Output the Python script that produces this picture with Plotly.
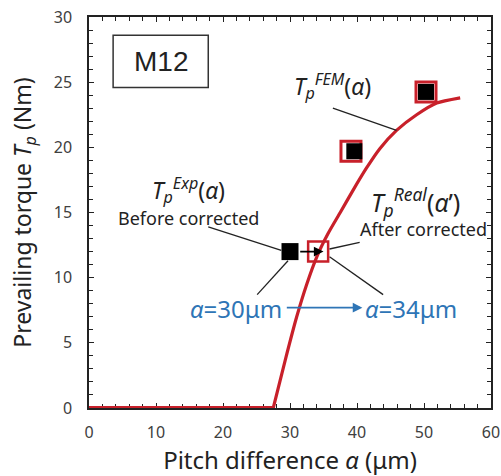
import plotly.graph_objects as go

# FEM curve (alpha in um, torque in Nm)
fem_alpha = [0, 27.5, 29.3, 31.0, 32.5, 34.0, 35.7, 37.5, 39.4, 41.4, 43.4, 45.9, 48.9, 51.9, 55.4]
fem_torque = [0, 0, 3.7, 7.0, 9.5, 11.6, 13.4, 15.0, 16.7, 18.4, 19.9, 21.3, 22.5, 23.4, 23.8]

# Experimental points
exp_alpha = [30.0]
exp_torque = [12.0]
real_alpha = [34.2]
real_torque = [12.0]
fem_pts_alpha = [39.6, 50.3]
fem_pts_torque = [19.7, 24.25]
fem_pts_red_alpha = [39.1, 50.3]

x_ticks = [0, 10, 20, 30, 40, 50, 60]
y_ticks = [0, 5, 10, 15, 20, 25, 30]

RED = "#c8202a"
BLUE = "#2e75b6"
FONT = "Noto Sans"

fig = go.Figure()
# flat part and rising part (sharp corner at onset)
fig.add_trace(go.Scatter(x=fem_alpha[:2], y=fem_torque[:2], mode="lines",
                         line=dict(color=RED, width=4), showlegend=False, cliponaxis=False))
fig.add_trace(go.Scatter(x=fem_alpha[1:], y=fem_torque[1:], mode="lines",
                         line=dict(color=RED, width=3.2, shape="spline", smoothing=0.6),
                         showlegend=False, cliponaxis=False))
fig.add_trace(go.Scatter(x=fem_pts_red_alpha, y=fem_pts_torque, mode="markers",
                         marker=dict(symbol="square", size=20, color="white",
                                     line=dict(color=RED, width=3)), showlegend=False))
fig.add_trace(go.Scatter(x=fem_pts_alpha, y=fem_pts_torque, mode="markers",
                         marker=dict(symbol="square", size=16, color="black"), showlegend=False))
fig.add_trace(go.Scatter(x=exp_alpha, y=exp_torque, mode="markers",
                         marker=dict(symbol="square", size=17, color="black"), showlegend=False))
fig.add_trace(go.Scatter(x=real_alpha, y=real_torque, mode="markers",
                         marker=dict(symbol="square-open", size=20, color=RED,
                                     line=dict(width=2.5)), showlegend=False))

LC = dict(color="#222", width=1.3)
shapes = [
    dict(type="rect", x0=3.6, x1=17.8, y0=24.6, y1=28.6, line=dict(color="#333", width=1.5)),
    dict(type="line", x0=36.4, y0=23.0, x1=45.9, y1=21.3, line=LC),
    dict(type="line", x0=17.8, y0=13.9, x1=28.7, y1=12.1, line=LC),
    dict(type="line", x0=25.1, y0=8.7, x1=29.7, y1=11.3, line=LC),
    dict(type="line", x0=35.9, y0=12.2, x1=40.4, y1=12.7, line=LC),
    dict(type="line", x0=35.9, y0=11.6, x1=43.9, y1=8.7, line=LC),
]

tp = "<i>T</i><sub><i>p</i></sub>"
annotations = [
    dict(x=10.7, y=26.6, text="M12", font=dict(size=28, color="#222", family="Liberation Sans")),
    dict(x=36.3, y=24.7, text=tp + "<sup><i>FEM</i></sup>(<i>α</i>)", font=dict(size=23, color="#222")),
    dict(x=14.9, y=16.7, text=tp + "<sup><i>Exp</i></sup>(<i>α</i>)", font=dict(size=23, color="#222")),
    dict(x=14.9, y=14.6, text="Before corrected", font=dict(size=18, color="#222")),
    dict(x=48.7, y=15.8, text=tp + "<sup><i>Real</i></sup>(<i>α</i>’)", font=dict(size=25, color="#222")),
    dict(x=49.9, y=13.7, text="After corrected", font=dict(size=18, color="#222")),
    dict(x=21.9, y=7.6, text="<i>α</i>=30μm", font=dict(size=24, color=BLUE)),
    dict(x=48.1, y=7.6, text="<i>α</i>=34μm", font=dict(size=24, color=BLUE)),
    # arrows
    dict(x=35.0, y=12.0, ax=31.3, ay=12.0, axref="x", ayref="y", text="", showarrow=True,
         arrowhead=2, arrowsize=1.2, arrowwidth=1.6, arrowcolor="black"),
    dict(x=40.8, y=7.7, ax=29.3, ay=7.7, axref="x", ayref="y", text="", showarrow=True,
         arrowhead=2, arrowsize=1.2, arrowwidth=1.6, arrowcolor=BLUE),
]
for a in annotations:
    a.setdefault("showarrow", False)
    a.setdefault("xref", "x")
    a.setdefault("yref", "y")

fig.update_layout(
    width=501, height=476,
    margin=dict(l=89, r=10, t=17, b=68),
    plot_bgcolor="white", paper_bgcolor="white",
    font=dict(family=FONT, color="#404040"),
    shapes=shapes, annotations=annotations,
    xaxis=dict(range=[0, 60], tickvals=x_ticks, showgrid=False, zeroline=False,
               showline=True, linecolor="#222", linewidth=1.5, mirror="allticks",
               ticks="inside", ticklen=5, tickcolor="#222", tickfont=dict(size=16, color="#404040"),
               minor=dict(dtick=2, ticks="inside", ticklen=4, tickcolor="#222"),
               ticklabelstandoff=9, ticklabeloverflow="allow", automargin=False, layer="below traces",
               title=dict(text="Pitch difference <i>α</i> (μm)", font=dict(size=24, color="#222"), standoff=6)),
    yaxis=dict(range=[0, 30], tickvals=y_ticks, showgrid=False, zeroline=False,
               showline=True, linecolor="#222", linewidth=1.5, mirror="allticks",
               ticks="inside", ticklen=5, tickcolor="#222", tickfont=dict(size=16, color="#404040"),
               minor=dict(dtick=1, ticks="inside", ticklen=4, tickcolor="#222"),
               ticklabelstandoff=12, ticklabeloverflow="allow", automargin=False, layer="below traces",
               title=dict(text="Prevailing torque <i>T</i><sub><i>p</i></sub> (Nm)", font=dict(size=23, color="#222"), standoff=16)),
)
fig.write_html("out.html", config={"displayModeBar": False},
               post_script="document.body.style.margin='0';document.body.style.overflow='hidden';")
